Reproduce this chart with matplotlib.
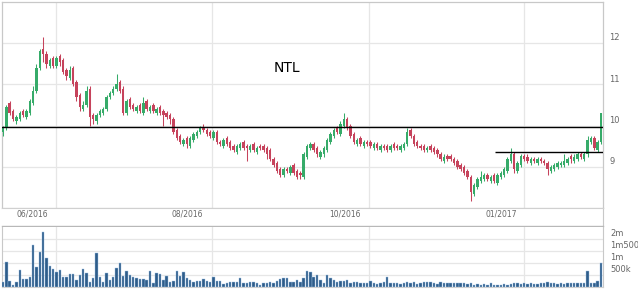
import matplotlib
matplotlib.use("Agg")
import matplotlib.pyplot as plt
import matplotlib.transforms as mtransforms
import numpy as np

# ---------------- data ----------------
opens = [
    9.85, 9.95, 10.55, 10.35, 10.1, 10.15, 10.35, 10.2, 10.3, 10.55,
    10.85, 11.4, 11.85, 11.75, 11.45, 11.65, 11.45, 11.7, 11.6, 11.35,
    11.15, 11.4, 11.05, 10.75, 10.4, 10.5, 10.9, 10.25, 10.1, 10.25,
    10.3, 10.4, 10.7, 10.8, 10.9, 11.05, 10.9, 10.3, 10.65, 10.5,
    10.35, 10.5, 10.3, 10.6, 10.35, 10.5, 10.3, 10.45, 10.35, 10.3,
    10.25, 10.15, 9.9, 9.75, 9.55, 9.7, 9.5, 9.65, 9.75, 9.85,
    9.95, 9.9, 9.85, 9.7, 9.85, 9.6, 9.5, 9.7, 9.6, 9.5,
    9.35, 9.45, 9.6, 9.5, 9.4, 9.55, 9.35, 9.5, 9.5, 9.45,
    9.4, 9.2, 9.1, 8.95, 8.8, 8.95, 8.85, 9.05, 8.9, 8.85,
    8.75, 9.25, 9.45, 9.55, 9.45, 9.25, 9.3, 9.4, 9.6, 9.75,
    9.95, 9.8, 10.0, 10.15, 10.0, 9.8, 9.55, 9.7, 9.5, 9.6,
    9.6, 9.45, 9.55, 9.4, 9.5, 9.5, 9.4, 9.55, 9.5, 9.4,
    9.45, 9.55, 9.9, 9.75, 9.6, 9.5, 9.5, 9.4, 9.5, 9.45,
    9.4, 9.3, 9.15, 9.25, 9.25, 9.2, 9.15, 9.05, 9.0, 8.9,
    8.75, 8.35, 8.5, 8.65, 8.7, 8.8, 8.65, 8.8, 8.6, 8.75,
    8.8, 8.9, 9.15, 9.3, 8.9, 9.05, 9.25, 9.25, 9.1, 9.2,
    9.1, 9.2, 9.15, 9.1, 8.9, 8.95, 9.0, 9.05, 9.05, 9.1,
    9.25, 9.15, 9.2, 9.3, 9.2, 9.3, 9.6, 9.7, 9.4, 9.6,
]
highs = [
    10.0, 10.5, 10.6, 10.4, 10.25, 10.35, 10.4, 10.4, 10.65, 10.95,
    11.5, 11.85, 12.15, 11.8, 11.65, 11.7, 11.7, 11.75, 11.65, 11.4,
    11.45, 11.45, 11.1, 10.8, 10.6, 10.95, 10.95, 10.3, 10.3, 10.4,
    10.45, 10.75, 10.85, 10.95, 11.25, 11.1, 10.95, 10.65, 10.7, 10.55,
    10.5, 10.55, 10.7, 10.65, 10.5, 10.55, 10.45, 10.5, 10.4, 10.35,
    10.3, 10.2, 9.95, 9.8, 9.7, 9.75, 9.75, 9.85, 9.9, 10.0,
    10.05, 9.95, 9.9, 9.9, 9.9, 9.65, 9.7, 9.75, 9.65, 9.55,
    9.55, 9.6, 9.65, 9.55, 9.55, 9.6, 9.5, 9.55, 9.55, 9.5,
    9.45, 9.25, 9.15, 9.0, 9.0, 9.0, 9.05, 9.1, 8.95, 8.9,
    9.35, 9.55, 9.6, 9.6, 9.5, 9.4, 9.5, 9.7, 9.85, 9.95,
    10.0, 10.1, 10.3, 10.2, 10.05, 9.85, 9.7, 9.75, 9.65, 9.65,
    9.65, 9.6, 9.6, 9.55, 9.55, 9.55, 9.55, 9.6, 9.55, 9.55,
    9.6, 9.95, 9.95, 9.8, 9.65, 9.55, 9.55, 9.5, 9.55, 9.5,
    9.45, 9.35, 9.3, 9.3, 9.3, 9.25, 9.2, 9.1, 9.05, 8.95,
    8.8, 8.6, 8.75, 8.9, 8.85, 8.85, 8.8, 8.85, 8.85, 8.9,
    9.0, 9.25, 9.45, 9.35, 9.15, 9.3, 9.3, 9.3, 9.25, 9.25,
    9.25, 9.25, 9.2, 9.15, 9.05, 9.1, 9.15, 9.15, 9.3, 9.25,
    9.3, 9.3, 9.35, 9.35, 9.35, 9.75, 9.75, 9.75, 9.65, 10.3,
]
lows = [
    9.75, 9.9, 10.25, 10.1, 10.05, 10.1, 10.2, 10.15, 10.25, 10.5,
    10.8, 11.35, 11.55, 11.4, 11.4, 11.4, 11.4, 11.45, 11.25, 11.1,
    11.1, 10.95, 10.6, 10.35, 10.35, 10.45, 10.0, 10.05, 10.05, 10.2,
    10.25, 10.35, 10.65, 10.75, 10.85, 10.8, 10.25, 10.25, 10.4, 10.35,
    10.3, 10.3, 10.25, 10.35, 10.3, 10.3, 10.25, 10.25, 10.0, 10.15,
    10.05, 9.8, 9.65, 9.55, 9.5, 9.45, 9.45, 9.6, 9.7, 9.8,
    9.85, 9.75, 9.7, 9.65, 9.55, 9.5, 9.45, 9.5, 9.4, 9.35,
    9.3, 9.4, 9.4, 9.15, 9.35, 9.35, 9.3, 9.4, 9.35, 9.2,
    9.15, 9.0, 8.85, 8.75, 8.75, 8.85, 8.8, 8.8, 8.7, 8.7,
    8.7, 9.2, 9.4, 9.35, 9.25, 9.2, 9.25, 9.35, 9.55, 9.7,
    9.8, 9.75, 9.95, 9.9, 9.7, 9.55, 9.5, 9.5, 9.45, 9.5,
    9.45, 9.4, 9.4, 9.35, 9.4, 9.35, 9.35, 9.4, 9.4, 9.35,
    9.4, 9.5, 9.7, 9.5, 9.45, 9.4, 9.35, 9.35, 9.35, 9.3,
    9.25, 9.15, 9.1, 9.15, 9.15, 9.05, 8.95, 8.9, 8.8, 8.7,
    8.17, 8.3, 8.45, 8.6, 8.65, 8.65, 8.6, 8.6, 8.55, 8.7,
    8.75, 8.85, 9.1, 8.85, 8.85, 9.0, 9.15, 9.1, 9.05, 9.1,
    9.05, 9.1, 9.05, 8.8, 8.85, 8.9, 8.95, 9.0, 9.0, 9.05,
    9.1, 9.1, 9.15, 9.2, 9.15, 9.25, 9.55, 9.4, 9.35, 9.55,
]
closes = [
    9.95, 10.45, 10.3, 10.15, 10.2, 10.3, 10.25, 10.35, 10.6, 10.85,
    11.4, 11.8, 11.75, 11.5, 11.6, 11.45, 11.65, 11.55, 11.3, 11.2,
    11.35, 11.0, 10.7, 10.45, 10.5, 10.85, 10.2, 10.15, 10.25, 10.35,
    10.4, 10.7, 10.8, 10.9, 11.0, 10.85, 10.3, 10.6, 10.45, 10.4,
    10.45, 10.35, 10.55, 10.4, 10.45, 10.35, 10.4, 10.3, 10.25, 10.2,
    10.15, 9.85, 9.7, 9.6, 9.65, 9.55, 9.7, 9.8, 9.85, 9.95,
    9.9, 9.8, 9.75, 9.85, 9.6, 9.55, 9.65, 9.55, 9.45, 9.4,
    9.5, 9.55, 9.45, 9.45, 9.5, 9.4, 9.45, 9.45, 9.4, 9.3,
    9.2, 9.05, 8.9, 8.8, 8.95, 8.9, 9.0, 8.85, 8.75, 8.8,
    9.3, 9.5, 9.55, 9.4, 9.3, 9.35, 9.45, 9.65, 9.8, 9.9,
    9.85, 10.05, 10.15, 9.95, 9.75, 9.6, 9.65, 9.55, 9.6, 9.55,
    9.5, 9.55, 9.45, 9.5, 9.45, 9.4, 9.5, 9.45, 9.45, 9.5,
    9.55, 9.85, 9.75, 9.55, 9.5, 9.45, 9.4, 9.45, 9.4, 9.35,
    9.3, 9.2, 9.25, 9.2, 9.2, 9.1, 9.0, 8.95, 8.85, 8.75,
    8.4, 8.55, 8.7, 8.75, 8.8, 8.7, 8.75, 8.65, 8.8, 8.85,
    8.95, 9.2, 9.3, 8.95, 9.1, 9.25, 9.2, 9.15, 9.2, 9.15,
    9.2, 9.15, 9.1, 8.95, 9.0, 9.05, 9.1, 9.1, 9.15, 9.2,
    9.2, 9.25, 9.3, 9.25, 9.3, 9.65, 9.7, 9.45, 9.6, 10.3,
]
volumes_k = [
    220, 1030, 250, 80, 190, 710, 350, 330, 430, 1750,
    850, 1460, 2290, 1220, 875, 750, 640, 710, 430, 430,
    530, 530, 290, 500, 750, 570, 220, 360, 1430, 400,
    220, 570, 290, 430, 780, 990, 460, 670, 500, 430,
    390, 320, 330, 290, 670, 150, 570, 540, 290, 460,
    220, 250, 680, 460, 640, 390, 290, 220, 250, 250,
    320, 260, 220, 430, 250, 250, 120, 150, 190, 220,
    190, 360, 150, 180, 210, 220, 150, 80, 150, 180,
    220, 180, 250, 330, 360, 360, 220, 220, 290, 190,
    360, 670, 640, 400, 500, 290,
    180, 500, 360, 290, 220, 260, 250, 290, 180,
    210, 190, 150, 180, 180, 250, 150, 120, 180, 220,
    400, 150, 180, 150, 120, 180, 210, 150, 220, 120,
    180, 220, 210, 190, 150, 120, 210, 180, 150,
    180, 180, 170, 150, 180, 120, 150, 80, 110,
    80, 120, 100, 180, 80, 70, 100, 110, 80, 110,
    180, 150, 120, 150, 120, 150,
    120, 140, 150, 180, 210, 180, 150, 140,
    150, 120, 180, 150, 170, 150, 180, 150, 670, 150,
    180, 250, 1010,
]
title = "NTL"
x_tick_labels = ["06/2016", "08/2016", "10/2016", "01/2017"]
x_tick_pos = [8.7, 55.1, 102.4, 149.1]
x_grid_pos = [15.9, 62.6, 109.6, 156.0]
price_ticks = [9, 10, 11, 12]
price_tick_labels = ["9", "10", "11", "12"]
vol_ticks = [500000, 1000000, 1500000, 2000000]
vol_tick_labels = ["500k", "1m", "1m500", "2m"]
resistance_level = 9.97
support_level = 9.37
support_start = 147.3

# ---------------- styling ----------------
GREEN = "#36ab69"
RED = "#c6435c"
VOLC = "#2f5d8a"
GRID = "#e6e6e6"
SPINE = "#c8c8c8"
LABC = "#666666"

W, H = 638, 289
fig = plt.figure(figsize=(W / 100, H / 100), dpi=100)
fig.patch.set_facecolor("white")


def rect(l, t, r, b):
    return [l / W, 1 - b / H, (r - l) / W, (b - t) / H]


ax = fig.add_axes(rect(2, 2, 603, 208))
band = fig.add_axes(rect(2, 208, 603, 226))
axv = fig.add_axes(rect(2, 227, 603, 287))

n = len(closes)
x = np.arange(n)
o = np.array(opens)
c = np.array(closes)
h = np.array(highs)
l = np.array(lows)
up = c >= o
cols = np.where(up, GREEN, RED)

XL, XR = -0.3, 179.6

# price panel
ax.vlines(x, l, h, colors=cols, linewidth=0.75, zorder=3)
ax.bar(x, np.maximum(np.abs(c - o), 0.03), bottom=np.minimum(o, c),
       width=0.72, color=cols, linewidth=0, zorder=4)
ax.axhline(resistance_level, color="black", linewidth=1.0, zorder=5)
ax.hlines(support_level, support_start, XR, color="black", linewidth=1.0, zorder=5)
ax.set_xlim(XL, XR)
ax.set_ylim(8.0, 13.0)
ax.set_yticks(price_ticks)
ax.set_xticks(x_grid_pos)
ax.grid(True, color=GRID, linewidth=0.9, zorder=0)
ax.tick_params(length=0, labelleft=False, labelbottom=False, labelright=False)
for s in ["left", "right", "top"]:
    ax.spines[s].set_color(SPINE)
    ax.spines[s].set_linewidth(0.9)
ax.spines["bottom"].set_color("#d0d0d0")
ax.spines["bottom"].set_linewidth(0.9)
ax.set_axisbelow(True)

tr = mtransforms.blended_transform_factory(ax.transAxes, ax.transData)
for v, s in zip(price_ticks, price_tick_labels):
    ax.text(1 + 6 / 601, v + 0.02, s, transform=tr, ha="left", va="bottom",
            fontsize=6, color=LABC, clip_on=False)

fig.text(287 / W, 1 - 68 / H, title, ha="center", va="center",
         fontsize=10, color="black")

# band with date labels
band.set_xlim(XL, XR)
band.set_ylim(0, 1)
band.set_xticks([])
band.set_yticks([])
band.spines["left"].set_visible(False)
band.spines["right"].set_color(SPINE)
band.spines["top"].set_color("#d0d0d0")
band.spines["bottom"].set_color("#b8b8b8")
band.spines["bottom"].set_linewidth(1.0)
for p, s in zip(x_tick_pos, x_tick_labels):
    band.text(p, 0.64, s, ha="center", va="center", fontsize=5.5, color=LABC)

# volume panel
axv.bar(x, np.array(volumes_k) * 1000, width=0.72, color=VOLC,
        edgecolor="#9cc0e4", linewidth=0.3, zorder=3)
axv.set_xlim(XL, XR)
axv.set_ylim(0, 2.5e6)
axv.set_yticks(vol_ticks)
axv.set_xticks(x_grid_pos)
axv.grid(True, color=GRID, linewidth=0.9, zorder=0)
axv.set_axisbelow(True)
axv.tick_params(length=0, labelleft=False, labelbottom=False, labelright=False)
for s in ["left", "right"]:
    axv.spines[s].set_color(SPINE)
axv.spines["top"].set_visible(False)
axv.spines["bottom"].set_color("#d0d0d0")
trv = mtransforms.blended_transform_factory(axv.transAxes, axv.transData)
for v, s in zip(vol_ticks, vol_tick_labels):
    axv.text(1 + 7 / 601, v + 30000, s, transform=trv, ha="left", va="bottom",
             fontsize=6, color=LABC, clip_on=False)

fig.savefig("out.png", dpi=100, facecolor="white")
